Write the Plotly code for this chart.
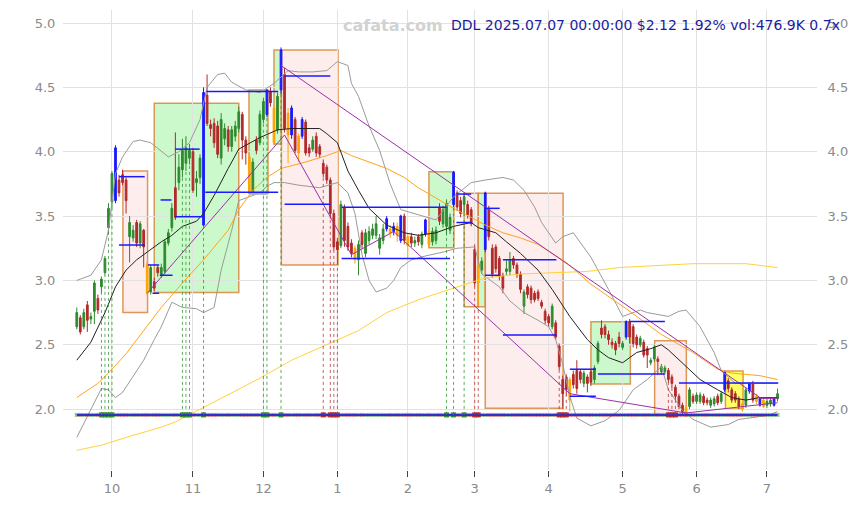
import plotly.graph_objects as go
import pandas as pd

# ---------------- data ----------------
holidays = ["2024-11-28", "2024-12-25", "2025-01-01", "2025-01-09", "2025-01-20",
            "2025-02-17", "2025-04-18", "2025-05-26", "2025-06-19", "2025-07-04"]
dates = pd.bdate_range("2024-09-17", "2025-07-07", freq="C", holidays=holidays)

opens = [
    2.64, 2.71, 2.64, 2.81, 2.70, 2.76, 2.86, 2.95, 3.06, 3.41,
    3.61, 3.62, 3.78, 3.82, 3.78, 3.34, 3.33, 3.45, 3.29, 3.39,
    3.13, 2.91, 2.99, 3.10, 3.04, 3.07, 3.29, 3.41, 3.72, 3.76,
    3.86, 3.91, 3.95, 4.00, 3.76, 3.80, 3.43, 4.44, 4.21, 4.22,
    4.20, 3.95, 4.10, 4.17, 4.04, 4.12, 4.18, 4.29, 4.09, 3.96,
    3.69, 4.09, 4.07, 4.25, 4.29, 4.47, 4.34, 4.17, 4.48, 4.60,
    4.30, 4.13, 4.25, 4.12, 4.12, 4.23, 4.03, 4.02, 4.12, 4.04,
    3.91, 3.88, 3.78, 3.52, 3.30, 3.27, 3.57, 3.42, 3.29, 3.25,
    3.16, 3.37, 3.21, 3.31, 3.35, 3.35, 3.25, 3.31, 3.40, 3.40,
    3.38, 3.42, 3.31, 3.50, 3.34, 3.34, 3.29, 3.34, 3.28, 3.36,
    3.38, 3.30, 3.31, 3.57, 3.44, 3.42, 3.39, 3.59, 3.68, 3.62,
    3.59, 3.59, 3.55, 3.24, 3.11, 3.08, 3.24, 3.56, 3.25, 3.26,
    3.17, 3.04, 3.07, 3.07, 3.17, 3.12, 3.05, 2.80, 2.95, 2.94,
    2.90, 2.91, 2.83, 2.76, 2.72, 2.64, 2.67, 2.49, 2.23, 2.25,
    2.23, 2.27, 2.30, 2.29, 2.20, 2.25, 2.29, 2.23, 2.37, 2.63,
    2.64, 2.58, 2.52, 2.51, 2.56, 2.48, 2.56, 2.68, 2.64, 2.56,
    2.50, 2.52, 2.47, 2.36, 2.39, 2.39, 2.29, 2.29, 2.30, 2.25,
    2.17, 2.10, 2.03, 2.01, 2.02, 2.10, 2.06, 2.06, 2.10, 2.07,
    2.03, 2.04, 2.10, 2.06, 2.15, 2.22, 2.15, 2.12, 2.08, 2.04,
    2.03, 2.14, 2.20, 2.10, 2.03, 2.07, 2.03, 2.04, 2.03, 2.08]
highs = [
    2.79, 2.73, 2.78, 2.84, 2.75, 3.00, 2.89, 3.03, 3.19, 3.60,
    3.85, 4.05, 3.82, 3.86, 3.80, 3.50, 3.43, 3.47, 3.46, 3.40,
    3.15, 3.12, 3.02, 3.12, 3.13, 3.32, 3.40, 3.60, 4.15, 3.98,
    4.10, 4.12, 4.06, 4.03, 3.85, 3.98, 4.50, 4.60, 4.25, 4.26,
    4.24, 4.30, 4.22, 4.20, 4.20, 4.24, 4.35, 4.31, 4.12, 3.99,
    3.95, 4.12, 4.32, 4.42, 4.48, 4.50, 4.36, 4.46, 4.81, 4.65,
    4.34, 4.36, 4.27, 4.14, 4.27, 4.25, 4.06, 4.12, 4.15, 4.06,
    3.94, 3.90, 3.80, 3.55, 3.33, 3.62, 3.59, 3.45, 3.32, 3.27,
    3.31, 3.39, 3.40, 3.42, 3.44, 3.50, 3.36, 3.44, 3.50, 3.43,
    3.45, 3.45, 3.51, 3.52, 3.36, 3.37, 3.34, 3.36, 3.38, 3.48,
    3.40, 3.41, 3.42, 3.60, 3.58, 3.63, 3.52, 3.85, 3.70, 3.65,
    3.68, 3.62, 3.57, 3.28, 3.13, 3.18, 3.69, 3.58, 3.28, 3.28,
    3.19, 3.06, 3.16, 3.22, 3.19, 3.14, 3.07, 2.93, 2.97, 2.96,
    2.92, 2.93, 2.85, 2.78, 2.74, 2.82, 2.69, 2.51, 2.26, 2.27,
    2.25, 2.30, 2.38, 2.31, 2.30, 2.27, 2.31, 2.34, 2.53, 2.69,
    2.66, 2.61, 2.55, 2.53, 2.60, 2.53, 2.69, 2.70, 2.66, 2.58,
    2.57, 2.54, 2.49, 2.40, 2.50, 2.41, 2.35, 2.34, 2.32, 2.27,
    2.19, 2.12, 2.05, 2.03, 2.17, 2.12, 2.13, 2.13, 2.12, 2.09,
    2.09, 2.10, 2.12, 2.14, 2.30, 2.24, 2.17, 2.14, 2.10, 2.06,
    2.17, 2.21, 2.22, 2.12, 2.09, 2.09, 2.08, 2.09, 2.09, 2.16]
lows = [
    2.62, 2.58, 2.62, 2.60, 2.66, 2.66, 2.74, 2.90, 3.03, 3.36,
    3.55, 3.60, 3.65, 3.74, 3.52, 3.14, 3.30, 3.26, 3.25, 3.10,
    2.88, 2.89, 2.92, 3.03, 3.02, 3.05, 3.27, 3.38, 3.47, 3.70,
    3.80, 3.85, 3.90, 3.68, 3.65, 3.75, 3.42, 4.20, 4.12, 4.03,
    3.95, 3.90, 4.05, 4.00, 4.00, 4.08, 4.15, 3.94, 3.90, 3.66,
    3.67, 3.98, 4.05, 4.22, 4.27, 4.35, 4.05, 4.14, 4.45, 4.15,
    3.91, 4.10, 3.99, 3.92, 4.10, 3.97, 3.96, 4.00, 3.96, 3.95,
    3.80, 3.75, 3.48, 3.23, 3.12, 3.25, 3.26, 3.23, 3.18, 3.13,
    3.04, 3.25, 3.18, 3.28, 3.32, 3.32, 3.20, 3.28, 3.38, 3.33,
    3.35, 3.30, 3.29, 3.28, 3.17, 3.26, 3.26, 3.27, 3.25, 3.34,
    3.25, 3.27, 3.28, 3.43, 3.41, 3.35, 3.36, 3.57, 3.54, 3.49,
    3.50, 3.48, 3.42, 2.95, 2.80, 3.05, 3.22, 3.31, 3.02, 3.06,
    3.00, 2.90, 3.04, 3.04, 3.09, 3.02, 2.90, 2.74, 2.86, 2.82,
    2.83, 2.84, 2.78, 2.66, 2.64, 2.62, 2.54, 2.30, 2.02, 2.10,
    1.98, 2.16, 2.12, 2.20, 2.17, 2.13, 2.18, 2.20, 2.35, 2.55,
    2.55, 2.50, 2.47, 2.42, 2.48, 2.46, 2.54, 2.51, 2.48, 2.47,
    2.48, 2.40, 2.32, 2.34, 2.37, 2.27, 2.27, 2.27, 2.20, 2.16,
    2.07, 2.00, 1.96, 1.94, 2.00, 2.04, 2.04, 2.04, 2.03, 2.03,
    2.01, 2.02, 2.03, 2.04, 2.13, 2.13, 2.05, 2.05, 2.00, 1.98,
    2.01, 2.12, 2.05, 2.04, 2.02, 2.01, 2.01, 2.02, 2.02, 2.06]
closes = [
    2.75, 2.60, 2.75, 2.69, 2.72, 2.98, 2.77, 3.01, 3.17, 3.56,
    3.83, 4.03, 3.68, 3.76, 3.62, 3.45, 3.39, 3.29, 3.44, 3.26,
    2.90, 3.10, 2.94, 3.06, 3.10, 3.30, 3.37, 3.56, 3.49, 3.88,
    4.01, 4.03, 4.01, 3.70, 3.79, 3.95, 4.46, 4.22, 4.18, 4.07,
    3.98, 4.25, 4.18, 4.04, 4.17, 4.20, 4.31, 4.09, 3.99, 3.68,
    3.92, 4.01, 4.29, 4.39, 4.48, 4.38, 4.07, 4.43, 4.79, 4.18,
    4.13, 4.34, 4.01, 3.99, 4.25, 3.99, 3.99, 4.09, 3.99, 3.98,
    3.83, 3.78, 3.52, 3.26, 3.24, 3.59, 3.31, 3.26, 3.21, 3.16,
    3.28, 3.28, 3.37, 3.38, 3.40, 3.44, 3.33, 3.40, 3.48, 3.37,
    3.42, 3.35, 3.50, 3.31, 3.27, 3.29, 3.31, 3.30, 3.36, 3.47,
    3.28, 3.38, 3.39, 3.46, 3.55, 3.60, 3.49, 3.84, 3.57, 3.52,
    3.65, 3.51, 3.44, 2.98, 2.98, 3.15, 3.68, 3.34, 3.05, 3.09,
    3.03, 2.94, 3.09, 3.16, 3.12, 3.05, 2.93, 2.91, 2.89, 2.85,
    2.85, 2.86, 2.80, 2.69, 2.67, 2.80, 2.56, 2.33, 2.12, 2.15,
    2.07, 2.19, 2.16, 2.23, 2.28, 2.20, 2.21, 2.32, 2.51, 2.58,
    2.58, 2.54, 2.50, 2.46, 2.51, 2.51, 2.68, 2.56, 2.51, 2.50,
    2.55, 2.42, 2.42, 2.38, 2.48, 2.37, 2.33, 2.32, 2.23, 2.20,
    2.10, 2.02, 1.98, 1.95, 2.15, 2.06, 2.11, 2.11, 2.05, 2.05,
    2.07, 2.08, 2.05, 2.12, 2.29, 2.16, 2.07, 2.07, 2.02, 2.00,
    2.15, 2.20, 2.07, 2.06, 2.08, 2.02, 2.06, 2.07, 2.08, 2.12]

blue_days = [11, 36, 54, 58, 61, 64, 88, 90, 92, 99, 107, 116, 156, 184, 191, 194, 198]
orange_days = [20, 49, 56, 60, 63, 79, 89, 91, 94, 100, 114, 140, 173, 189, 193, 195]

# indicator lines (trading-day index, value)
ma20_i = [0, 4, 8, 11, 14, 17, 20, 24, 27, 30, 34, 36, 39, 41, 43, 46, 52, 57, 61, 69,
          71, 74, 77, 80, 83, 88, 93, 97, 102, 107, 112, 114, 119, 122, 126, 131, 135, 140, 145, 148,
          151, 155, 159, 163, 166, 168, 172, 177, 182, 186, 190, 194, 199]
ma20_v = [2.38, 2.52, 2.75, 2.95, 3.08, 3.16, 3.22, 3.30, 3.35, 3.42, 3.46, 3.52, 3.66, 3.77, 3.87, 4.02, 4.11, 4.17, 4.18, 4.18,
          4.14, 4.07, 3.85, 3.70, 3.56, 3.43, 3.37, 3.35, 3.37, 3.42, 3.45, 3.41, 3.37, 3.30, 3.21, 3.08, 2.93, 2.72, 2.54, 2.46,
          2.40, 2.36, 2.44, 2.47, 2.50, 2.46, 2.36, 2.23, 2.15, 2.09, 2.07, 2.09, 2.09]
ma50_i = [0, 6, 9, 14, 19, 24, 30, 36, 43, 46, 50, 54, 58, 65, 71, 75, 78, 83, 88, 93,
          97, 102, 107, 112, 116, 121, 126, 131, 135, 139, 146, 156, 166, 175, 182, 186, 194, 199]
ma50_v = [2.09, 2.20, 2.28, 2.43, 2.61, 2.79, 2.98, 3.16, 3.39, 3.55, 3.70, 3.80, 3.87, 3.92, 3.97, 4.01, 3.97, 3.92, 3.87, 3.80,
          3.72, 3.64, 3.56, 3.49, 3.43, 3.37, 3.33, 3.28, 3.21, 3.14, 2.97, 2.78, 2.58, 2.44, 2.31, 2.28, 2.26, 2.23]
ma200_i = [0, 7, 14, 24, 28, 33, 43, 52, 61, 71, 80, 88, 97, 107, 116, 126, 135, 145, 154, 166, 175, 185, 190, 199]
ma200_v = [1.68, 1.72, 1.78, 1.86, 1.90, 1.97, 2.11, 2.24, 2.38, 2.50, 2.61, 2.75, 2.85, 2.94, 3.02, 3.05, 3.06, 3.07, 3.10, 3.12,
           3.13, 3.13, 3.13, 3.10]
bbu_i = [0, 4, 7, 9, 11, 13, 16, 18, 21, 24, 26, 29, 32, 35, 37, 40, 42, 44, 48, 52,
         56, 60, 63, 67, 71, 74, 77, 78, 80, 83, 86, 89, 92, 97, 102, 107, 112, 116, 121, 124,
         127, 130, 132, 136, 138, 141, 146, 151, 155, 160, 162, 168, 171, 173, 177, 181, 183, 187, 191, 199]
bbu_v = [3.00, 3.04, 3.16, 3.39, 3.83, 3.96, 4.08, 4.09, 4.07, 4.00, 3.96, 4.00, 4.07, 4.25, 4.50, 4.60, 4.61, 4.54, 4.48, 4.46,
         4.53, 4.63, 4.62, 4.62, 4.63, 4.70, 4.67, 4.53, 4.43, 4.20, 4.01, 3.75, 3.55, 3.51, 3.47, 3.65, 3.76, 3.78, 3.80, 3.78,
         3.70, 3.57, 3.45, 3.29, 3.34, 3.37, 3.18, 2.93, 2.72, 2.77, 2.75, 2.72, 2.76, 2.77, 2.64, 2.44, 2.30, 2.20, 2.20, 2.20]
bbl_i = [0, 4, 7, 9, 11, 13, 16, 19, 22, 24, 27, 30, 34, 36, 39, 41, 44, 46, 52, 54,
         56, 59, 63, 69, 74, 77, 79, 81, 83, 85, 88, 90, 92, 95, 99, 104, 108, 113, 115, 120,
         123, 127, 131, 134, 136, 138, 140, 142, 146, 150, 154, 158, 162, 166, 168, 172, 175, 180, 185, 188,
         196, 199]
bbl_v = [1.78, 1.99, 2.16, 2.15, 2.09, 2.13, 2.25, 2.38, 2.54, 2.64, 2.83, 2.79, 2.78, 2.75, 2.79, 3.08, 3.39, 3.62, 3.68, 3.73,
         3.76, 3.76, 3.74, 3.72, 3.76, 3.68, 3.52, 3.20, 3.00, 2.91, 2.94, 3.00, 3.10, 3.16, 3.19, 3.22, 3.25, 3.26, 3.05, 2.95,
         2.84, 2.75, 2.69, 2.64, 2.54, 2.35, 2.10, 1.93, 1.87, 1.91, 1.99, 2.15, 2.23, 2.33, 2.15, 1.99, 1.92, 1.86, 1.88, 1.92,
         1.95, 1.98]

# zig-zag and trend line
zig_i = [20, 59, 78, 90, 140, 173, 199]
zig_v = [2.90, 4.13, 3.20, 3.38, 2.12, 1.97, 2.05]
trend_i = [58, 194]
trend_v = [4.67, 2.09]
flat_i = [194, 199]
flat_v = [2.085, 2.085]

# zones (boxes)
zone_x0 = [13.1, 22, 48.9, 56, 58.1, 100, 110, 114, 116, 146, 164.1, 184.2]
zone_x1 = [20.1, 46, 54.3, 58.1, 74.2, 107.1, 114, 116, 138.1, 157.2, 173.1, 189.2]
zone_lo = [2.75, 2.907, 3.677, 4.06, 3.12, 3.254, 2.796, 2.796, 2.006, 2.195, 1.955, 2.0]
zone_hi = [3.85, 4.376, 4.479, 4.79, 4.79, 3.845, 3.677, 3.677, 3.677, 2.679, 2.532, 2.296]
zone_kind = ["down", "up", "up", "up", "down", "up", "down", "up", "down", "up", "down", "mid"]

# support / resistance segments
lvl_x0 = [12, 12, 20.2, 21.5, 23.6, 23.8, 27.9, 27.9, 36.8, 36.5, 59, 59, 75.2, 75.2,
          107.8, 107.8, 115.9, 115.9, 121, 121, 140, 140, 148, 157, 171]
lvl_x1 = [19.3, 19.3, 23.4, 23.4, 27.2, 26.9, 34.9, 35.9, 57.2, 57.2, 72, 72, 105, 106,
          112, 112, 120.1, 120.1, 136.2, 136.2, 147.4, 147.4, 167, 167, 199.2]
lvl_y = [3.806, 3.275, 3.12, 2.90, 3.04, 3.625, 4.02, 3.495, 4.467, 3.685, 4.588, 3.591, 3.568, 3.17,
         3.671, 3.45, 3.56, 3.04, 3.16, 2.576, 2.31, 2.10, 2.273, 2.68, 2.203]

signal_up_days = [7, 8, 9, 10, 30, 31, 32, 36, 53, 54, 58, 105, 107, 110]
signal_dn_days = [70, 72, 73, 74, 113, 114, 137, 138, 139, 168, 169, 170]
base_level = 1.955

title_text = "DDL 2025.07.07 00:00:00 $2.12 1.92% vol:476.9K 0.7x"
watermark = "cafata.com"

# ---------------- figure ----------------
n = len(dates)
assert n == len(opens) == len(highs) == len(lows) == len(closes) == 200
idx = list(range(n))

GREEN = "#2e8b2e"
RED = "#b22a2a"
BLUE = "#1a1aff"
ORANGE = "#ffa500"

fig = go.Figure()

shapes = []
zone_fill = {"up": "rgba(120,240,120,0.38)", "down": "rgba(250,190,190,0.28)", "mid": "rgba(255,255,0,0.6)"}
for x0, x1, lo, hi, k in zip(zone_x0, zone_x1, zone_lo, zone_hi, zone_kind):
    shapes.append(dict(type="rect", xref="x", yref="y", x0=x0, x1=x1, y0=lo, y1=hi,
                       fillcolor=zone_fill[k], line=dict(color="rgba(215,135,60,0.85)", width=1.5),
                       layer="below"))

# signal dotted verticals
for d in signal_up_days:
    shapes.append(dict(type="line", xref="x", yref="y", x0=d, x1=d, y0=base_level, y1=lows[d],
                       line=dict(color="rgba(46,139,46,0.75)", width=1, dash="dot")))
for d in signal_dn_days:
    shapes.append(dict(type="line", xref="x", yref="y", x0=d, x1=d, y0=base_level, y1=lows[d],
                       line=dict(color="rgba(178,42,42,0.75)", width=1, dash="dot")))

# indicator lines
def line(xs, ys, color, width=1):
    fig.add_trace(go.Scatter(x=xs, y=ys, mode="lines", line=dict(color=color, width=width),
                             hoverinfo="skip", showlegend=False))

line(bbu_i, bbu_v, "#9a9a9a")
line(bbl_i, bbl_v, "#9a9a9a")
line(ma200_i, ma200_v, "#ffd23c")
line(ma50_i, ma50_v, "#ffa31a")
line(ma20_i, ma20_v, "#222222")
line(zig_i, zig_v, "#9b30a8")
line(trend_i, trend_v, "#9b30a8")
line(flat_i, flat_v, "#9b30a8", 1.5)

# gray bar under zone
fig.add_trace(go.Scatter(x=[48.9, 54.3], y=[3.677, 3.677], mode="lines",
                         line=dict(color="#b0b0b0", width=3), hoverinfo="skip", showlegend=False))

# support / resistance lines
for x0, x1, yv in zip(lvl_x0, lvl_x1, lvl_y):
    shapes.append(dict(type="line", xref="x", yref="y", x0=x0, x1=x1, y0=yv, y1=yv,
                       line=dict(color=BLUE, width=1.5)))

# candles
def candles(sel, color):
    xs = [i for i in idx if sel(i)]
    fig.add_trace(go.Candlestick(
        x=xs, open=[opens[i] for i in xs], high=[highs[i] for i in xs],
        low=[lows[i] for i in xs], close=[closes[i] for i in xs],
        increasing=dict(line=dict(color=color, width=1), fillcolor=color),
        decreasing=dict(line=dict(color=color, width=1), fillcolor=color),
        whiskerwidth=0, hoverinfo="skip", showlegend=False))

special = set(blue_days) | set(orange_days)
candles(lambda i: i not in special and closes[i] >= opens[i], GREEN)
candles(lambda i: i not in special and closes[i] < opens[i], RED)
candles(lambda i: i in orange_days, ORANGE)
candles(lambda i: i in blue_days, BLUE)

# volume strip
vcol = ["rgba(46,139,46,0.5)" if closes[i] >= opens[i] else "rgba(178,42,42,0.5)" for i in idx]
fig.add_trace(go.Scatter(x=idx, y=[base_level] * n, mode="markers",
                         marker=dict(symbol="square", size=4, color=vcol, line=dict(width=0)),
                         hoverinfo="skip", showlegend=False))
hi_days = signal_up_days + signal_dn_days
fig.add_trace(go.Scatter(x=hi_days, y=[base_level] * len(hi_days), mode="markers",
                         marker=dict(symbol="square", size=5,
                                     color=[GREEN if closes[d] >= opens[d] else RED for d in hi_days]),
                         hoverinfo="skip", showlegend=False))
fig.add_trace(go.Scatter(x=[0, n - 1], y=[base_level, base_level], mode="lines",
                         line=dict(color="#3030c8", width=2), hoverinfo="skip", showlegend=False))

# dummy on right axis
fig.add_trace(go.Scatter(x=[0], y=[3], yaxis="y2", mode="markers", marker=dict(opacity=0),
                         hoverinfo="skip", showlegend=False))

# month ticks
tickvals, ticktext = [], []
prev = None
for i, d in enumerate(dates):
    key = (d.year, d.month)
    if prev is not None and key != prev:
        tickvals.append(i)
        ticktext.append(str(d.month))
    prev = key

yr = [1.527, 5.101]
yticks = [2.0, 2.5, 3.0, 3.5, 4.0, 4.5, 5.0]
tickfont = dict(family="DejaVu Sans", size=13, color="#8a8a8a")

# page body has an 8px margin, so the figure is sized to fit inside the window
fig.update_layout(
    width=842, height=489,
    margin=dict(l=55, r=33, t=2, b=27),
    paper_bgcolor="white", plot_bgcolor="white",
    font=dict(family="DejaVu Sans"),
    showlegend=False,
    shapes=shapes,
    xaxis=dict(range=[-3.91, 210.2], tickvals=tickvals, ticktext=ticktext, showgrid=True,
               gridcolor="#e2e2e2", gridwidth=1, zeroline=False, showline=False,
               ticks="outside", ticklen=6, tickcolor="#444444", tickfont=tickfont,
               rangeslider=dict(visible=False)),
    yaxis=dict(range=yr, tickvals=yticks, tickformat=".1f", showgrid=True, gridcolor="#e2e2e2",
               zeroline=False, showline=False, ticks="outside", ticklen=4, tickcolor="rgba(0,0,0,0)",
               tickfont=tickfont),
    yaxis2=dict(range=yr, overlaying="y", side="right", tickvals=yticks, tickformat=".1f",
                showgrid=False, zeroline=False, showline=False, ticks="outside", ticklen=7,
                tickcolor="rgba(0,0,0,0)", tickfont=tickfont),
    annotations=[
        dict(text="<b>" + watermark + "</b>", xref="paper", yref="paper", x=0.4377, y=0.967,
             xanchor="center", yanchor="middle", showarrow=False,
             font=dict(family="DejaVu Sans", size=16, color="#d2d2d2")),
        dict(text=title_text, xref="paper", yref="paper", x=1.033, y=0.967,
             xanchor="right", yanchor="middle", showarrow=False,
             font=dict(family="DejaVu Sans", size=14, color="#1c1ca0")),
    ],
)

fig.write_html("out.html")
